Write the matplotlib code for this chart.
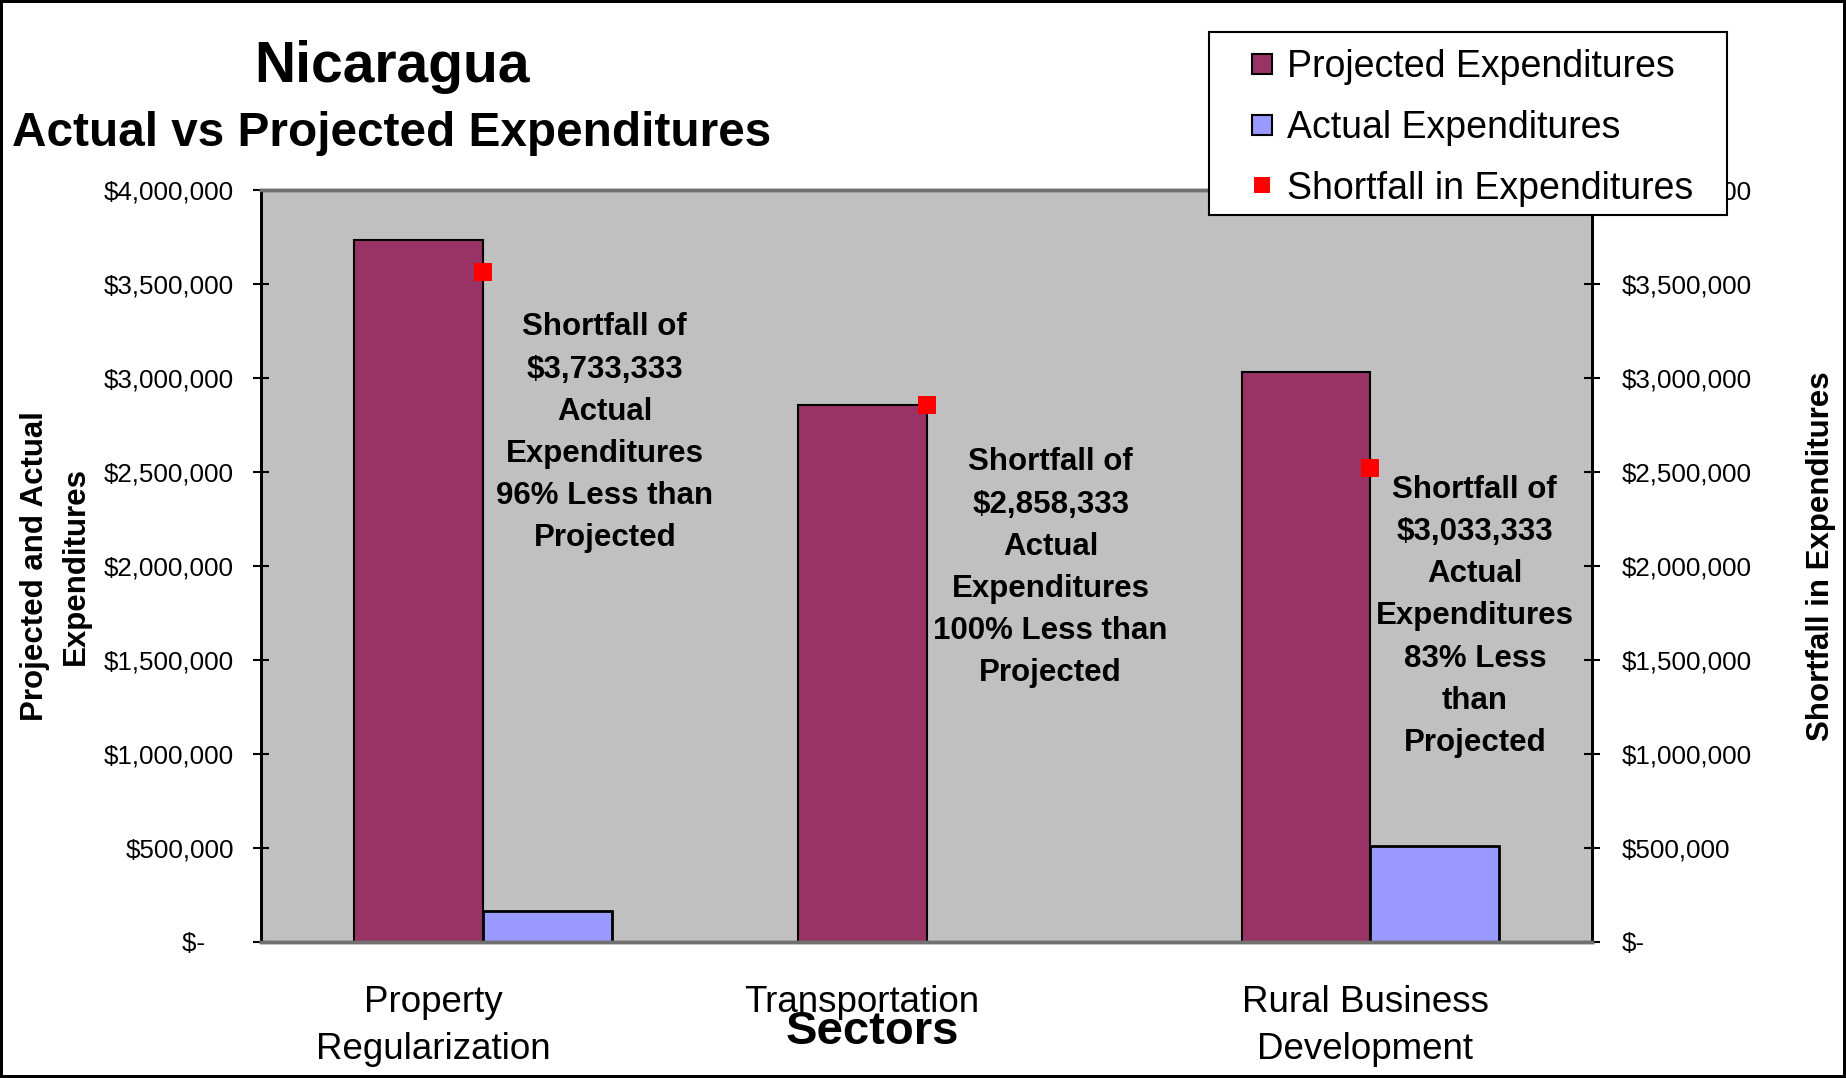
import matplotlib

matplotlib.use("Agg")

import matplotlib.pyplot as plt
from matplotlib.lines import Line2D
from matplotlib.patches import Rectangle
from matplotlib.ticker import FuncFormatter
import numpy as np

plt.rcParams["font.family"] = ["Liberation Sans", "DejaVu Sans"]

# data
SECTORS = ["Property\nRegularization", "Transportation", "Rural Business\nDevelopment"]
PROJECTED = [3733333, 2858333, 3033333]
ACTUAL = [166667, 0, 510000]
SHORTFALL = [3566666, 2858333, 2523333]
NOTES = [
    "Shortfall of\n$3,733,333\nActual\nExpenditures\n96% Less than\nProjected",
    "Shortfall of\n$2,858,333\nActual\nExpenditures\n100% Less than\nProjected",
    "Shortfall of\n$3,033,333\nActual\nExpenditures\n83% Less\nthan\nProjected",
]
Y_TICKS = [0, 500000, 1000000, 1500000, 2000000, 2500000, 3000000, 3500000, 4000000]

# layout (not data)
NOTE_X = [0.275, 1.28, 2.236]
NOTE_Y = [2708000, 1990000, 1732000]
LABEL_SHIFT = [-0.111, -0.146, -0.011]

PROJ_COLOR = "#993366"
ACT_COLOR = "#9999FF"
SHORT_COLOR = "#FF0000"
BAR_W = 0.29


def money_left(v, _pos=None):
    if v == 0:
        return "$-\u00a0\u00a0\u00a0\u00a0"
    return f"${v:,.0f}"


def money_right(v, _pos=None):
    if v == 0:
        return "$-"
    return f"${v:,.0f}"


def style_axis(ax):
    for side in ("left", "right"):
        ax.spines[side].set_color("black")
        ax.spines[side].set_linewidth(2)
    for side in ("top", "bottom"):
        ax.spines[side].set_color("#707070")
        ax.spines[side].set_linewidth(2.5)


def main():
    fig = plt.figure(figsize=(18.46, 10.78), dpi=100)
    fig.patch.set_edgecolor("black")
    fig.patch.set_linewidth(4)

    ax = fig.add_axes([0.1414, 0.1262, 0.721, 0.6975])
    ax.set_facecolor("#C0C0C0")
    x = np.arange(len(SECTORS))

    ax.bar(x - BAR_W / 2, PROJECTED, BAR_W, color=PROJ_COLOR, edgecolor="black", linewidth=1.5, zorder=2)
    ax.bar(x + BAR_W / 2, ACTUAL, BAR_W, color=ACT_COLOR, edgecolor="black", linewidth=2, zorder=2)

    ax.set_xlim(-0.5, len(SECTORS) - 0.5)
    ax.set_ylim(0, 4000000)
    ax.set_yticks(Y_TICKS)
    ax.yaxis.set_major_formatter(FuncFormatter(money_left))
    ax.tick_params(axis="y", direction="inout", length=12, width=1.5, labelsize=18.7, pad=13.5)
    ax.set_xticks(x + np.array(LABEL_SHIFT))
    ax.set_xticklabels(SECTORS, fontsize=26.5, linespacing=1.45)
    ax.tick_params(axis="x", length=0, pad=31)
    style_axis(ax)

    ax2 = ax.twinx()
    ax2.set_ylim(0, 4000000)
    ax2.set_yticks(Y_TICKS)
    ax2.yaxis.set_major_formatter(FuncFormatter(money_right))
    ax2.tick_params(axis="y", direction="inout", length=12, width=1.5, labelsize=18.7, pad=15.5)
    style_axis(ax2)
    ax2.plot(x, SHORTFALL, linestyle="none", marker="s", markersize=13,
             color=SHORT_COLOR, markeredgewidth=0, zorder=5)

    for nx, ny, txt in zip(NOTE_X, NOTE_Y, NOTES):
        ax2.text(nx, ny, txt, ha="center", va="center", fontsize=22.5,
                 fontweight="bold", linespacing=1.53, zorder=6)

    fig.text(0.2124, 0.924, "Nicaragua", ha="center", va="baseline",
             fontsize=41, fontweight="bold")
    fig.text(0.0065, 0.8646, "Actual vs Projected Expenditures", ha="left",
             va="baseline", fontsize=34.4, fontweight="bold")
    fig.text(0.030, 0.475, "Projected and Actual\nExpenditures", rotation=90,
             ha="center", va="center", fontsize=22.5, fontweight="bold",
             linespacing=1.5, multialignment="center")
    fig.text(0.9862, 0.484, "Shortfall in Expenditures", rotation=90,
             ha="center", va="center", fontsize=22.5, fontweight="bold")
    fig.text(0.4725, 0.0426, "Sectors", ha="center", va="center",
             fontsize=34, fontweight="bold")

    # legend box drawn by hand so the padding matches
    fig.patches.append(Rectangle((0.655, 0.8006), 0.2806, 0.1694,
                                 transform=fig.transFigure, facecolor="white",
                                 edgecolor="black", linewidth=1.5, zorder=3))
    handles = [
        Line2D([], [], linestyle="none", marker="s", markersize=15,
               markerfacecolor=PROJ_COLOR, markeredgecolor="black", markeredgewidth=1.5),
        Line2D([], [], linestyle="none", marker="s", markersize=15,
               markerfacecolor=ACT_COLOR, markeredgecolor="black", markeredgewidth=1.5),
        Line2D([], [], linestyle="none", marker="s", markersize=12,
               markerfacecolor=SHORT_COLOR, markeredgewidth=0),
    ]
    labels = ["Projected Expenditures", "Actual Expenditures", "Shortfall in Expenditures"]
    leg = fig.legend(handles, labels, loc="upper left", bbox_to_anchor=(0.6717, 0.9545),
                     frameon=False, fontsize=27.0, borderpad=0, borderaxespad=0,
                     handlelength=1.17, handletextpad=0.08, labelspacing=0.66)
    leg.set_zorder(6)

    fig.savefig("out.png", dpi=100)
    plt.close(fig)


if __name__ == "__main__":
    main()
